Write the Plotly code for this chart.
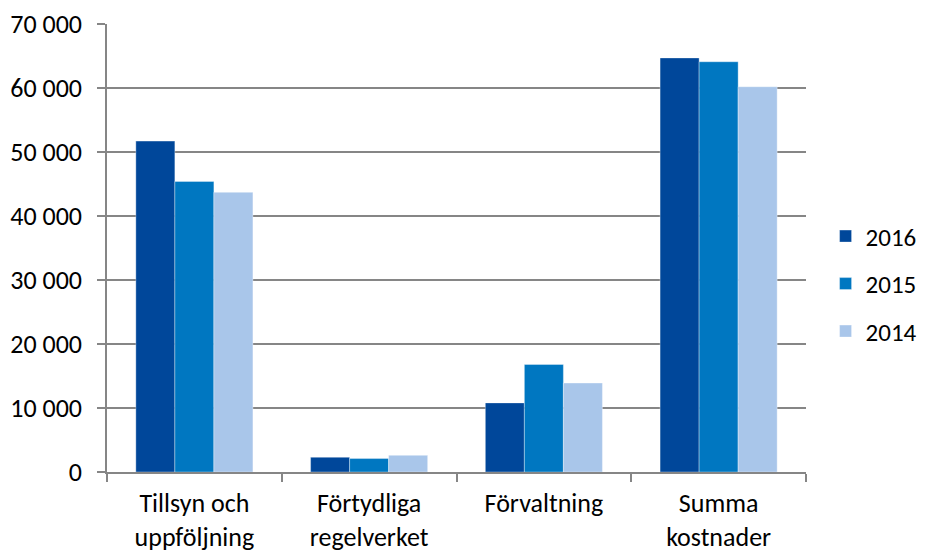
import plotly.graph_objects as go

categories = ["Tillsyn och<br>uppföljning", "Förtydliga<br>regelverket", "Förvaltning", "Summa<br>kostnader"]
series_names = ["2016", "2015", "2014"]
values_2016 = [51700, 2300, 10800, 64700]
values_2015 = [45400, 2100, 16800, 64100]
values_2014 = [43700, 2600, 13900, 60200]
colors = ["#00479A", "#0077C1", "#A9C6EA"]
y_ticks = [0, 10000, 20000, 30000, 40000, 50000, 60000, 70000]

font_family = "Carlito, Calibri, Lato, sans-serif"
fsize = 26

fig = go.Figure()
for name, vals, col in zip(series_names, [values_2016, values_2015, values_2014], colors):
    fig.add_trace(go.Bar(
        x=categories, y=vals, name=name, legendgroup=name,
        marker=dict(color=col, line=dict(color="rgba(255,255,255,0.35)", width=1)),
    ))

fig.update_layout(
    width=927, height=551,
    margin=dict(l=99, r=129, t=16, b=87, autoexpand=False),
    paper_bgcolor="white", plot_bgcolor="white",
    barmode="group", bargap=0.33, bargroupgap=0,
    separators=", ",
    font=dict(family=font_family, size=fsize, color="#000000"),
    legend=dict(
        x=1.028, y=0.42, xanchor="left", yanchor="middle",
        font=dict(size=25), tracegroupgap=12, traceorder="grouped",
        itemwidth=30,
    ),
    xaxis=dict(
        automargin=False,
        showline=True, linecolor="#868686", linewidth=1.5,
        ticks="outside", tickson="boundaries", tickcolor="#868686", ticklen=8, tickwidth=1.5,
        ticklabelstandoff=7,
        tickfont=dict(size=fsize),
    ),
    yaxis=dict(
        automargin=False,
        range=[0, 70000], tickvals=y_ticks, tickformat=",d",
        showgrid=True, gridcolor="#868686", gridwidth=1.5,
        showline=True, linecolor="#868686", linewidth=1.5,
        ticks="outside", tickcolor="#868686", ticklen=8, tickwidth=1.5,
        ticklabelstandoff=10,
        tickfont=dict(size=fsize), zeroline=False,
    ),
)

fig.write_html("out.html")
